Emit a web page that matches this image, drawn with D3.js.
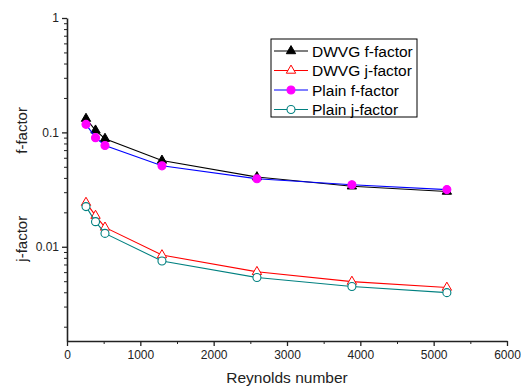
<!DOCTYPE html>
<html>
<head>
<meta charset="utf-8">
<script src="https://cdn.jsdelivr.net/npm/d3@7"></script>
<style>
  body { margin: 0; background: #fff; }
  svg { font-family: "Liberation Sans", Arial, sans-serif; }
</style>
</head>
<body>
<script>
// chart size
let width = 521;
let height = 391;

let margin = { top: 18, right: 14, bottom: 50, left: 67 };

// data
let reynolds = [259, 389, 518, 1295, 2590, 3885, 5180];
let dwvgF = [0.1318, 0.1042, 0.0881, 0.0568, 0.0407, 0.0338, 0.0304];
let dwvgJ = [0.0243, 0.0187, 0.01476, 0.00846, 0.00604, 0.00496, 0.0044];
let plainF = [0.1175, 0.0899, 0.0769, 0.0510, 0.0393, 0.0348, 0.0316];
let plainJ = [0.02244, 0.01657, 0.01309, 0.0075, 0.00538, 0.00449, 0.00397];

let xTicks = [0, 1000, 2000, 3000, 4000, 5000, 6000];
let yTicks = [0.01, 0.1, 1];
let seriesNames = ['DWVG f-factor', 'DWVG j-factor', 'Plain f-factor', 'Plain j-factor'];

let series = [
  { name: seriesNames[0], values: dwvgF, line: '#000000', marker: 'triangle', fill: '#000000', stroke: '#000000' },
  { name: seriesNames[1], values: dwvgJ, line: '#ff0000', marker: 'triangle', fill: '#ffffff', stroke: '#ff0000' },
  { name: seriesNames[2], values: plainF, line: '#0000ff', marker: 'circle', fill: '#ff00ff', stroke: '#ff00ff' },
  { name: seriesNames[3], values: plainJ, line: '#008080', marker: 'circle', fill: '#ffffff', stroke: '#008080' },
];

let x = d3.scaleLinear()
  .domain([0, 6000])
  .range([margin.left, width - margin.right]);

let y = d3.scaleLog()
  .domain([0.0015, 1])
  .range([height - margin.bottom, margin.top]);

let svg = d3.select('body')
  .append('svg')
  .attr('width', width)
  .attr('height', height);

// x axis: majors every 1000, minors halfway
let xMinor = d3.range(500, 6000, 1000);
svg.append('g')
  .attr('transform', `translate(0,${height - margin.bottom})`)
  .call(d3.axisBottom(x).tickValues(xMinor).tickSize(3).tickFormat(''))
  .call(g => g.select('.domain').remove())
  .call(g => g.selectAll('.tick line').attr('stroke', '#222'));
svg.append('g')
  .attr('transform', `translate(0,${height - margin.bottom})`)
  .call(d3.axisBottom(x).tickValues(xTicks).tickSize(5).tickSizeOuter(0).tickPadding(4).tickFormat(d3.format('d')))
  .call(g => g.select('.domain').attr('stroke-width', 1.6).attr('stroke', '#222'))
  .call(g => g.selectAll('.tick line').attr('stroke-width', 1.3).attr('stroke', '#222'))
  .call(g => g.selectAll('.tick text').attr('font-size', 12).attr('fill', '#222').attr('font-family', null));

// y axis: log, minor ticks 2..9 per decade
let yMinor = y.ticks().filter(v => yTicks.indexOf(v) < 0 && v > 0.0015);
svg.append('g')
  .attr('transform', `translate(${margin.left},0)`)
  .call(d3.axisLeft(y).tickValues(yMinor).tickSize(3).tickFormat(''))
  .call(g => g.select('.domain').remove())
  .call(g => g.selectAll('.tick line').attr('stroke', '#222'));
svg.append('g')
  .attr('transform', `translate(${margin.left},0)`)
  .call(d3.axisLeft(y).tickValues(yTicks).tickSize(5).tickSizeOuter(0).tickPadding(3).tickFormat(d => String(d)))
  .call(g => g.select('.domain').attr('stroke-width', 1.6).attr('stroke', '#222'))
  .call(g => g.selectAll('.tick line').attr('stroke-width', 1.3).attr('stroke', '#222'))
  .call(g => g.selectAll('.tick text').attr('font-size', 12).attr('fill', '#222').attr('font-family', null));

// axis titles
svg.append('text')
  .attr('x', (x(0) + x(6000)) / 2)
  .attr('y', 383)
  .attr('text-anchor', 'middle')
  .attr('font-size', 15.5)
  .attr('fill', '#222')
  .text('Reynolds number');

svg.append('text')
  .attr('transform', `translate(27,${y(0.1) - 2}) rotate(-90)`)
  .attr('text-anchor', 'middle')
  .attr('font-size', 15)
  .attr('fill', '#222')
  .text('f-factor');

svg.append('text')
  .attr('transform', `translate(27,${y(0.01) - 8}) rotate(-90)`)
  .attr('text-anchor', 'middle')
  .attr('font-size', 15)
  .attr('fill', '#222')
  .text('j-factor');

let tri = d3.symbol().type(d3.symbolTriangle).size(38);

function drawMarker(g, s, cx, cy) {
  if (s.marker === 'triangle') {
    g.append('path')
      .attr('d', tri())
      .attr('transform', `translate(${cx},${cy})`)
      .attr('fill', s.fill)
      .attr('stroke', s.stroke)
      .attr('stroke-width', 1);
  } else {
    g.append('circle')
      .attr('cx', cx)
      .attr('cy', cy)
      .attr('r', 4)
      .attr('fill', s.fill)
      .attr('stroke', s.stroke)
      .attr('stroke-width', 1.1);
  }
}

let line = d3.line()
  .x((d, i) => x(reynolds[i]))
  .y(d => y(d));

series.forEach(s => {
  let g = svg.append('g');
  g.append('path')
    .datum(s.values)
    .attr('fill', 'none')
    .attr('stroke', s.line)
    .attr('stroke-width', 1.1)
    .attr('d', line);
  s.values.forEach((v, i) => drawMarker(g, s, x(reynolds[i]), y(v)));
});

// legend
let legend = svg.append('g').attr('transform', 'translate(271,39)');
legend.append('rect')
  .attr('width', 146)
  .attr('height', 78)
  .attr('fill', '#fff')
  .attr('stroke', '#000')
  .attr('stroke-width', 1);

series.forEach((s, i) => {
  let ly = 12 + i * 19.5;
  let row = legend.append('g');
  row.append('line')
    .attr('x1', 3).attr('x2', 37)
    .attr('y1', ly).attr('y2', ly)
    .attr('stroke', s.line)
    .attr('stroke-width', 1.1);
  drawMarker(row, s, 20, ly);
  row.append('text')
    .attr('x', 41)
    .attr('y', ly + 5.5)
    .attr('font-size', 15.5)
    .attr('fill', '#000')
    .text(s.name);
});
</script>
</body>
</html>
